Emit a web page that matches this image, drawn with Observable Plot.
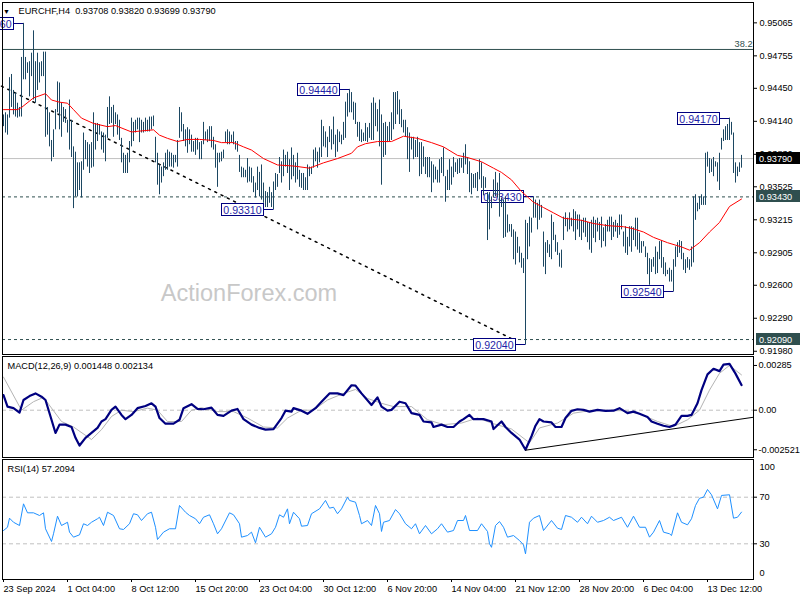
<!DOCTYPE html>
<html><head><meta charset="utf-8">
<script src="https://cdn.jsdelivr.net/npm/d3@7"></script>
<script src="https://cdn.jsdelivr.net/npm/@observablehq/plot@0.6"></script>
<style>
html,body{margin:0;padding:0;background:#fff;}
#chart{position:relative;width:800px;height:600px;overflow:hidden;background:#fff;}
#chart svg{position:absolute;left:0;top:0;}
</style></head><body><div id="chart"></div>
<script>
// ---------- DATA ----------
const symbolTitle = "EURCHF,H4  0.93708 0.93820 0.93699 0.93790";
const macdTitle = "MACD(12,26,9) 0.001448 0.002134";
const rsiTitle = "RSI(14) 57.2094";
const watermark = "ActionForex.com";

const high = [0.9420,0.9422,0.9420,0.9455,0.9458,0.9443,0.9441,0.9431,0.9427,0.9474,
0.9506,0.9474,0.9469,0.9470,0.9478,0.9499,0.9470,0.9478,0.9469,0.9470,
0.9479,0.9479,0.9427,0.9422,0.9396,0.9406,0.9425,0.9451,0.9450,0.9431,
0.9427,0.9425,0.9415,0.9434,0.9415,0.9390,0.9385,0.9375,0.9375,0.9376,
0.9403,0.9396,0.9394,0.9392,0.9394,0.9422,0.9412,0.9412,0.9411,0.9404,
0.9403,0.9401,0.9427,0.9437,0.9427,0.9429,0.9422,0.9420,0.9415,0.9398,
0.9384,0.9382,0.9384,0.9395,0.9417,0.9413,0.9415,0.9417,0.9417,0.9415,
0.9413,0.9417,0.9415,0.9418,0.9418,0.9419,0.9399,0.9384,0.9373,0.9371,
0.9375,0.9384,0.9387,0.9385,0.9384,0.9382,0.9382,0.9396,0.9427,0.9422,
0.9411,0.9406,0.9408,0.9406,0.9401,0.9395,0.9398,0.9398,0.9394,0.9395,
0.9413,0.9404,0.9406,0.9409,0.9409,0.9399,0.9392,0.9384,0.9384,0.9385,
0.9387,0.9404,0.9406,0.9404,0.9401,0.9404,0.9395,0.9395,0.9382,0.9371,
0.9370,0.9368,0.9379,0.9371,0.9370,0.9362,0.9356,0.9371,0.9366,0.9373,
0.9356,0.9348,0.9347,0.9352,0.9347,0.9357,0.9365,0.9364,0.9380,0.9376,
0.9387,0.9382,0.9385,0.9378,0.9389,0.9382,0.9375,0.9384,0.9368,0.9365,
0.9365,0.9361,0.9373,0.9371,0.9371,0.9387,0.9389,0.9385,0.9389,0.9415,
0.9409,0.9404,0.9399,0.9409,0.9406,0.9418,0.9401,0.9406,0.9404,0.9401,
0.9413,0.9432,0.9440,0.9444,0.9441,0.9432,0.9431,0.9413,0.9413,0.9406,
0.9403,0.9412,0.9408,0.9412,0.9431,0.9436,0.9431,0.9425,0.9434,0.9420,
0.9412,0.9413,0.9409,0.9413,0.9422,0.9441,0.9441,0.9442,0.9434,0.9425,
0.9415,0.9415,0.9408,0.9403,0.9399,0.9399,0.9396,0.9399,0.9394,0.9394,
0.9390,0.9380,0.9380,0.9380,0.9376,0.9373,0.9371,0.9368,0.9378,0.9380,
0.9389,0.9362,0.9368,0.9378,0.9371,0.9380,0.9375,0.9378,0.9379,0.9379,
0.9384,0.9392,0.9380,0.9376,0.9365,0.9364,0.9365,0.9366,0.9378,0.9375,
0.9362,0.9361,0.9347,0.9347,0.9343,0.9359,0.9366,0.9356,0.9365,0.9342,
0.9340,0.9343,0.9326,0.9317,0.9317,0.9312,0.9310,0.9305,0.9296,0.9290,
0.9285,0.9321,0.9318,0.9324,0.9323,0.9343,0.9340,0.9337,0.9340,0.9335,
0.9310,0.9300,0.9302,0.9298,0.9326,0.9319,0.9307,0.9300,0.9290,0.9293,
0.9324,0.9328,0.9323,0.9328,0.9323,0.9331,0.9329,0.9326,0.9326,0.9321,
0.9323,0.9323,0.9319,0.9318,0.9321,0.9324,0.9321,0.9323,0.9319,0.9324,
0.9314,0.9317,0.9321,0.9324,0.9324,0.9319,0.9321,0.9318,0.9326,0.9326,
0.9310,0.9315,0.9305,0.9315,0.9315,0.9314,0.9323,0.9323,0.9309,0.9301,
0.9301,0.9296,0.9290,0.9285,0.9284,0.9286,0.9296,0.9291,0.9301,0.9302,
0.9286,0.9281,0.9274,0.9276,0.9274,0.9284,0.9296,0.9300,0.9302,0.9301,
0.9290,0.9284,0.9286,0.9284,0.9296,0.9343,0.9345,0.9337,0.9343,0.9345,
0.9343,0.9384,0.9385,0.9379,0.9378,0.9380,0.9376,0.9375,0.9384,0.9398,
0.9406,0.9409,0.9411,0.9417,0.9413,0.9403,0.9375,0.9371,0.9375,0.9382];

const low = [0.9409,0.9403,0.9401,0.9417,0.9427,0.9420,0.9418,0.9417,0.9418,0.9418,
0.9453,0.9453,0.9459,0.9437,0.9456,0.9434,0.9431,0.9443,0.9450,0.9456,
0.9456,0.9399,0.9401,0.9390,0.9376,0.9380,0.9406,0.9422,0.9406,0.9399,
0.9413,0.9412,0.9403,0.9387,0.9380,0.9332,0.9343,0.9343,0.9349,0.9342,
0.9368,0.9378,0.9371,0.9365,0.9370,0.9371,0.9387,0.9395,0.9401,0.9387,
0.9384,0.9376,0.9398,0.9411,0.9412,0.9399,0.9411,0.9401,0.9396,0.9375,
0.9365,0.9365,0.9365,0.9375,0.9390,0.9395,0.9403,0.9406,0.9394,0.9403,
0.9403,0.9404,0.9404,0.9404,0.9406,0.9409,0.9375,0.9354,0.9345,0.9356,
0.9362,0.9368,0.9368,0.9371,0.9371,0.9370,0.9375,0.9371,0.9398,0.9404,
0.9395,0.9390,0.9384,0.9392,0.9385,0.9385,0.9382,0.9387,0.9378,0.9378,
0.9392,0.9396,0.9394,0.9395,0.9389,0.9387,0.9370,0.9352,0.9375,0.9376,
0.9379,0.9394,0.9392,0.9392,0.9394,0.9392,0.9387,0.9385,0.9366,0.9361,
0.9361,0.9361,0.9356,0.9357,0.9356,0.9347,0.9342,0.9349,0.9343,0.9340,
0.9337,0.9333,0.9333,0.9337,0.9333,0.9331,0.9349,0.9352,0.9365,0.9356,
0.9362,0.9371,0.9365,0.9349,0.9359,0.9362,0.9356,0.9359,0.9352,0.9351,
0.9349,0.9349,0.9349,0.9362,0.9364,0.9370,0.9376,0.9370,0.9375,0.9380,
0.9390,0.9389,0.9380,0.9394,0.9387,0.9392,0.9380,0.9385,0.9394,0.9392,
0.9396,0.9398,0.9418,0.9422,0.9422,0.9415,0.9411,0.9399,0.9395,0.9394,
0.9395,0.9395,0.9394,0.9398,0.9396,0.9396,0.9409,0.9404,0.9390,0.9354,
0.9380,0.9382,0.9394,0.9395,0.9396,0.9406,0.9411,0.9420,0.9411,0.9408,
0.9403,0.9399,0.9378,0.9366,0.9387,0.9378,0.9380,0.9380,0.9362,0.9364,
0.9371,0.9364,0.9361,0.9361,0.9347,0.9356,0.9359,0.9356,0.9356,0.9365,
0.9362,0.9338,0.9349,0.9349,0.9354,0.9361,0.9366,0.9364,0.9365,0.9370,
0.9365,0.9373,0.9364,0.9347,0.9345,0.9351,0.9351,0.9348,0.9359,0.9351,
0.9344,0.9351,0.9302,0.9312,0.9332,0.9342,0.9343,0.9342,0.9324,0.9333,
0.9304,0.9305,0.9309,0.9310,0.9305,0.9284,0.9279,0.9290,0.9281,0.9276,
0.9271,0.9204,0.9284,0.9296,0.9309,0.9323,0.9323,0.9312,0.9321,0.9323,
0.9277,0.9270,0.9290,0.9286,0.9284,0.9302,0.9291,0.9288,0.9277,0.9276,
0.9302,0.9315,0.9310,0.9312,0.9315,0.9310,0.9302,0.9312,0.9305,0.9302,
0.9309,0.9305,0.9300,0.9293,0.9290,0.9304,0.9300,0.9310,0.9302,0.9295,
0.9301,0.9296,0.9310,0.9310,0.9302,0.9305,0.9310,0.9304,0.9307,0.9312,
0.9296,0.9290,0.9288,0.9296,0.9291,0.9302,0.9296,0.9293,0.9290,0.9290,
0.9296,0.9286,0.9270,0.9260,0.9272,0.9277,0.9270,0.9271,0.9284,0.9276,
0.9270,0.9268,0.9270,0.9263,0.9263,0.9254,0.9277,0.9286,0.9290,0.9284,
0.9274,0.9271,0.9276,0.9274,0.9277,0.9281,0.9321,0.9329,0.9331,0.9335,
0.9335,0.9335,0.9371,0.9365,0.9366,0.9362,0.9371,0.9357,0.9349,0.9387,
0.9395,0.9396,0.9396,0.9396,0.9401,0.9365,0.9356,0.9362,0.9366,0.9370];

// moving average (red line), sampled
const maBars = [0,7,9,15,21,24,28,32,35,39,45,52,56,64,69,75,78,82,87,92,98,105,109,115,120,124,130,137,145,153,160,167,174,177,181,187,194,200,207,214,220,227,232,239,245,249,254,259,265,270,275,280,289,295,302,310,315,320,325,332,339,343,348,353,358,363,369];
const maValues = [0.9425,0.9425,0.9427,0.9436,0.9440,0.9434,0.9432,0.9431,0.9425,0.9417,0.9412,0.9409,0.9410,0.9404,0.9405,0.9406,0.9401,0.9398,0.9395,0.9397,0.9397,0.9396,0.9394,0.9394,0.9390,0.9387,0.9379,0.9373,0.9372,0.9370,0.9375,0.9379,0.9384,0.9390,0.9393,0.9395,0.9395,0.9400,0.9398,0.9394,0.9390,0.9382,0.9380,0.9376,0.9370,0.9366,0.9359,0.9348,0.9338,0.9333,0.9328,0.9323,0.9321,0.9318,0.9316,0.9315,0.9313,0.9310,0.9305,0.9300,0.9296,0.9293,0.9300,0.9310,0.9319,0.9334,0.9341];

// horizontal levels
const fibLevel = 0.94815, fibLabel = "38.2";
const bidPrice = 0.93790;
const dashedLevels = [0.93430, 0.92090];
// dotted trend line
const trendBars = [-1, 256];
const trendPrices = [0.9447, 0.9208];
// swing labels
const swingBars = [10, 173, 135, 265, 261, 335, 363];
const swingPrices = [0.95060, 0.94440, 0.93310, 0.93430, 0.92040, 0.92540, 0.94170];

const priceTicks = [0.95065,0.94755,0.94450,0.94140,0.93830,0.93525,0.93215,0.92905,0.92600,0.92290,0.91980];

// MACD
const macdBars = [0,2,5,8,10,13,16,19,21,24,26,28,31,34,36,38,41,44,47,49,51,54,56,59,61,64,67,71,74,76,78,81,85,88,90,94,97,100,104,107,110,114,117,120,124,128,131,135,139,141,144,145,149,152,156,159,163,167,170,174,176,179,184,187,189,192,194,198,201,204,208,210,214,215,219,222,225,228,230,233,235,240,244,245,249,251,254,258,261,264,266,268,270,274,276,279,281,284,287,290,293,297,301,305,308,312,315,318,322,324,327,330,333,336,339,342,344,347,349,352,355,358,360,363,366,369];
const macdValues = [0.00096,0.00023,0.00013,-0.00015,0.00065,0.00090,0.00107,0.00086,0.00065,-0.00061,
-0.00145,-0.00092,-0.00092,-0.00107,-0.00176,-0.00225,-0.00176,-0.00145,-0.00113,-0.00072,
-0.00057,0.00002,0.00023,-0.00030,-0.00057,-0.00030,0.00013,0.00027,0.00044,0.00023,
-0.00050,-0.00086,-0.00086,-0.00061,0.00013,0.00038,0.00008,0.00006,0.00016,-0.00030,
-0.00036,-0.00003,0.00008,-0.00057,-0.00092,-0.00113,-0.00124,-0.00120,-0.00050,-0.00003,
-0.00009,0.00013,-0.00003,-0.00023,0.00013,0.00054,0.00107,0.00107,0.00096,0.00159,
0.00157,0.00107,0.00033,0.00082,0.00023,-0.00003,0.00002,0.00054,0.00044,-0.00019,
-0.00030,-0.00072,-0.00078,-0.00107,-0.00092,-0.00107,-0.00107,-0.00072,-0.00057,-0.00030,
-0.00057,-0.00057,-0.00072,-0.00120,-0.00072,-0.00107,-0.00145,-0.00187,-0.00252,-0.00166,
-0.00099,-0.00057,-0.00072,-0.00078,-0.00107,-0.00107,-0.00050,-0.00004,0.00006,0.00002,
-0.00009,0.00002,-0.00004,-0.00003,0.00013,-0.00019,-0.00009,-0.00023,-0.00044,-0.00072,
-0.00086,-0.00099,-0.00107,-0.00092,-0.00036,-0.00036,-0.00030,0.00044,0.00128,0.00228,
0.00264,0.00249,0.00290,0.00295,0.00233,0.00160];
const signalBars = [0,9,15,20,29,35,44,49,54,59,65,72,77,82,89,94,99,107,115,122,130,137,142,149,155,162,170,176,182,189,195,204,212,220,229,237,245,254,263,268,277,285,293,302,310,318,327,335,342,348,353,358,363,369];
const signalValues = [0.00211,0,0.00054,0.00082,-0.00072,-0.00107,-0.00187,-0.00124,-0.00040,0,
-0.00009,0.00013,0,-0.00072,-0.00072,0,0.00016,-0.00009,-0.00009,-0.00050,
-0.00107,-0.00113,-0.00050,0,0,0.00065,0.00107,0.00132,0.00075,0.00044,
0.00023,0.00023,-0.00061,-0.00092,-0.00082,-0.00050,-0.00086,-0.00120,-0.00208,-0.00113,
-0.00082,-0.00019,-0.00003,-0.00003,-0.00003,-0.00023,-0.00072,-0.00104,-0.00061,0,
0.00128,0.00235,0.00285,0.00225];
const macdTrendBars = [261, 375];
const macdTrendValues = [-0.00255, -0.00045];
const macdTicks = [0.00285, 0, -0.002521];
const macdTickLabels = ["0.00285", "0.00", "-0.002521"];

// RSI
const rsiBars = [0,2,3,5,8,10,12,15,18,20,21,24,25,27,29,32,33,35,38,40,42,44,47,48,50,52,55,58,60,63,65,67,69,72,74,76,77,80,83,86,88,91,93,96,98,100,103,105,107,109,113,115,118,119,122,124,126,128,131,134,136,138,140,142,143,145,148,149,152,154,158,161,163,165,167,169,172,173,176,178,179,182,184,186,188,189,190,193,196,198,201,204,206,208,211,214,217,219,222,225,227,230,231,233,237,239,242,243,244,246,248,250,252,255,258,260,261,263,265,268,270,274,277,279,281,284,287,289,292,294,297,300,303,305,309,312,315,318,321,323,325,328,330,333,334,337,339,342,344,346,348,350,352,354,357,359,363,365,367,369];
const rsiValues = [41.4,44.2,52,48.5,45.7,64.3,56.6,56.6,54.3,56.6,
42.9,32,38.6,53.7,45.7,48.5,40,35.7,37.7,47.2,
45.7,48.5,51.5,52.8,45.7,57.1,54.3,42.9,42.3,47.2,
55.8,54.9,50,55.8,57.1,44.2,33.7,40,42.9,42.9,
62.9,57.1,54.3,51.5,47.2,52.8,54.9,47.2,38.6,42.9,
56.6,54.9,47.2,35.7,37.1,40,30.9,44.2,35.7,38.6,
44.2,54.9,52.8,60,47.2,57.1,51.5,45.1,45.7,55.8,
60,67.2,60.6,61.4,55.8,60,70,67.2,65.7,54.3,
47.2,50,45.7,62.9,55.8,40.6,48.5,50,59.4,55.8,
47.2,42.9,47.2,38.6,45.7,38.6,42.9,47.2,40,41.4,
50,50,54.3,41.4,41.4,47.2,40.6,30,27,45.7,
49.1,44.2,35.7,37.1,32.8,29.1,21.4,48.5,52,54.3,
41.4,50,43.4,42.3,54.3,52.8,48.5,52.8,47.2,53.7,
48.5,50,52.8,50,52.8,44.2,53.7,44.2,44.2,35.7,
40,50,40,38.6,37.1,56.6,48.5,46.3,51.5,62.9,
69.1,70,76.6,72.1,60,71.5,72.1,52,52.8,57.2];
const rsiLevels = [70, 30];

// time axis
const timeTickBars = [0,32,64,96,128,160,192,224,256,288,320,352];
const timeTickLabels = ["23 Sep 2024","1 Oct 04:00","8 Oct 12:00","15 Oct 20:00","23 Oct 04:00","30 Oct 12:00","6 Nov 20:00","14 Nov 04:00","21 Nov 12:00","28 Nov 20:00","6 Dec 04:00","13 Dec 12:00"];

// ---------- RENDER ----------
function fontAvailable(name) {
  const ctx = document.createElement("canvas").getContext("2d");
  const s = "0.95065 23 Sep 2024 EURCHF";
  ctx.font = "40px monospace"; const a = ctx.measureText(s).width;
  ctx.font = `40px "${name}", monospace`; const b = ctx.measureText(s).width;
  return Math.abs(a - b) > 0.5;
}
const narrow = fontAvailable("Liberation Sans Narrow");
const FONT = narrow ? '"Liberation Sans Narrow", "Liberation Sans", sans-serif' : '"Liberation Sans", Arial, sans-serif';
const FS = narrow ? 11 : 9.2;
const FS_BOX = narrow ? 13 : 10.6;

const W = 800, H = 600;
const BAR = "#1c4762";
const SLATE = "#2f4f4f";
const zip = (a, b, k1, k2) => a.slice(0, Math.min(a.length, b.length)).map((d, i) => ({[k1]: d, [k2]: b[i]}));

const bars = zip(high, low, "high", "low").map((d, i) => ({i, ...d}));
const maPts = zip(maBars, maValues, "i", "v");
const trendPts = zip(trendBars, trendPrices, "i", "v");
const macdPts = zip(macdBars, macdValues, "i", "v");
const sigPts = zip(signalBars, signalValues, "i", "v");
const macdTrend = zip(macdTrendBars, macdTrendValues, "i", "v");
const rsiPts = zip(rsiBars, rsiValues, "i", "v");
const timeLabel = new Map(timeTickBars.map((b, k) => [b, timeTickLabels[k]]));
const macdLabel = new Map(macdTicks.map((t, k) => [t, macdTickLabels[k]]));

const style = {background: "transparent", overflow: "visible", fontFamily: FONT, fontSize: FS + "px", color: "#000"};
const common = {width: W, height: H, marginLeft: 2, marginRight: 47, x: {domain: [-0.5, 375], axis: null}, style};
const mainY = {domain: [0.919495, 0.952562], axis: null};

function mainLayer(marks) {
  return Plot.plot({...common, marginTop: 2, marginBottom: H - 354, y: mainY, marks});
}

// background layer of the price panel
const layerA = mainLayer([
  Plot.text([watermark], {frameAnchor: "top-left", dx: 246.5, dy: 291, textAnchor: "middle", lineAnchor: "middle",
    fontFamily: '"Liberation Sans", Arial, sans-serif', fontSize: 23.5, fill: "#c8c8c8"}),
  Plot.ruleY([fibLevel], {stroke: SLATE}),
  Plot.ruleY([bidPrice], {stroke: "#c0c0c0"}),
  Plot.ruleY(dashedLevels, {stroke: SLATE, strokeDasharray: "3,3"}),
  Plot.line(trendPts, {x: "i", y: "v", stroke: "#000", strokeDasharray: "2,5"})
]);

// foreground layer of the price panel
const layerB = mainLayer([
  Plot.ruleX(bars, {x: "i", y1: "low", y2: "high", stroke: BAR, strokeWidth: 1}),
  Plot.line(maPts, {x: "i", y: "v", stroke: "#ff0000", strokeWidth: 1}),
  Plot.frame({stroke: "#000"}),
  Plot.axisY({anchor: "right", label: null, ticks: priceTicks, tickFormat: d => d.toFixed(5), tickSize: 3, tickPadding: 3}),
  Plot.text([fibLevel], {y: d => d, text: () => fibLabel, frameAnchor: "right", textAnchor: "end", lineAnchor: "bottom", dx: -1, dy: -2, fill: SLATE}),
  Plot.text(["\u25BC"], {frameAnchor: "top-left", dx: 4, dy: 9, textAnchor: "middle", lineAnchor: "middle", fontSize: 7}),
  Plot.text([symbolTitle], {frameAnchor: "top-left", dx: 16, dy: 9, textAnchor: "start", lineAnchor: "middle"})
]);

const macdLayer = Plot.plot({...common, marginTop: 356, marginBottom: H - 457,
  y: {domain: [-0.003014, 0.003421], axis: null},
  marks: [
    Plot.ruleY([0], {stroke: "#c0c0c0", strokeDasharray: "4,3"}),
    Plot.line(sigPts, {x: "i", y: "v", stroke: "#b4b4b4", strokeWidth: 1}),
    Plot.line(macdPts, {x: "i", y: "v", stroke: "#000080", strokeWidth: 2.2}),
    Plot.line(macdTrend, {x: "i", y: "v", stroke: "#000", strokeWidth: 1}),
    Plot.frame({stroke: "#000"}),
    Plot.axisY({anchor: "right", label: null, ticks: macdTicks, tickFormat: d => macdLabel.get(d), tickSize: 3, tickPadding: 2}),
    Plot.text([macdTitle], {frameAnchor: "top-left", dx: 5, dy: 10, textAnchor: "start", lineAnchor: "middle"})
  ]});

const rsiLayer = Plot.plot({...common, marginTop: 459, marginBottom: H - 579,
  y: {domain: [-0.64, 102.36], axis: null},
  marks: [
    Plot.ruleY(rsiLevels, {stroke: "#c0c0c0", strokeDasharray: "4,3"}),
    Plot.line(rsiPts, {x: "i", y: "v", stroke: "#1e90ff", strokeWidth: 1}),
    Plot.frame({stroke: "#000"}),
    Plot.axisY({anchor: "right", label: null, ticks: rsiLevels, tickSize: 3, tickPadding: 3}),
    Plot.axisY({anchor: "right", label: null, ticks: [100], tickSize: 0, tickPadding: 6, dy: 5}),
    Plot.axisY({anchor: "right", label: null, ticks: [0], tickSize: 0, tickPadding: 6, dy: -6}),
    Plot.axisX({anchor: "bottom", label: null, ticks: timeTickBars, tickFormat: d => timeLabel.get(d), textAnchor: "start", tickSize: 3, tickPadding: 3}),
    Plot.text([rsiTitle], {frameAnchor: "top-left", dx: 5, dy: 10, textAnchor: "start", lineAnchor: "middle"})
  ]});

const chart = document.getElementById("chart");
[layerA, layerB, macdLayer, rsiLayer].forEach(s => chart.appendChild(s));

// swing-point labels (boxes + connectors), positioned through the plot's scales
{
  const sx = layerA.scale("x"), sy = layerA.scale("y");
  const g = d3.select(layerA).append("g").attr("font-family", FONT).attr("font-size", FS_BOX);
  swingBars.forEach((b, k) => {
    const bx = Math.round(sx.apply(b)) + 0.5;
    const py = Math.round(sy.apply(swingPrices[k])) + 0.5;
    g.append("line").attr("x1", bx - 10).attr("x2", bx).attr("y1", py).attr("y2", py).attr("stroke", "#000080");
    g.append("rect").attr("x", bx - 52).attr("y", py - 6).attr("width", 42).attr("height", 12)
      .attr("fill", "#fff").attr("stroke", "#000080");
    g.append("text").attr("x", bx - 31).attr("y", py + 0.5).attr("text-anchor", "middle").attr("dominant-baseline", "central")
      .attr("fill", "#1f1fa8").text(swingPrices[k].toFixed(5));
  });
}
// highlighted price tags on the right scale
{
  const sx = layerB.scale("x"), sy = layerB.scale("y");
  const right = Math.round(sx.apply(375));
  const g = d3.select(layerB).append("g").attr("font-family", FONT).attr("font-size", FS).attr("text-anchor", "start");
  [[bidPrice, "#000"], [dashedLevels[0], SLATE], [dashedLevels[1], SLATE]].forEach(([p, c]) => {
    const py = Math.round(sy.apply(p));
    g.append("rect").attr("x", right + 3).attr("y", py - 6).attr("width", 44).attr("height", 12).attr("fill", c);
    g.append("text").attr("x", right + 6).attr("y", py + 0.5).attr("text-anchor", "start").attr("dominant-baseline", "central").attr("fill", "#fff").text(p.toFixed(5));
  });
}
</script></body></html>
